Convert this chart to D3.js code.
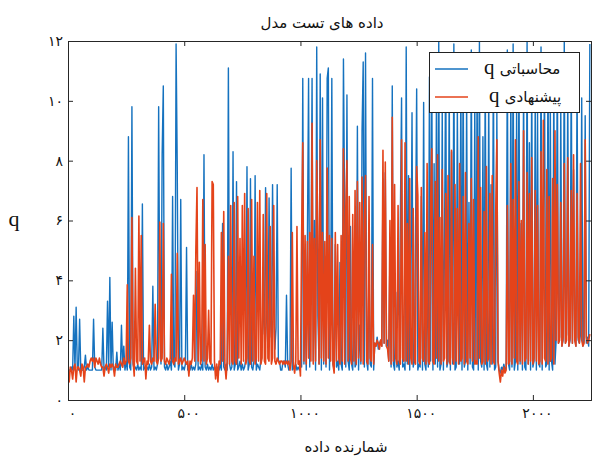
<!DOCTYPE html>
<html>
<head>
<meta charset="utf-8">
<script src="https://cdn.jsdelivr.net/npm/d3@7"></script>
<style>
  body { margin: 0; background: #fff; }
  svg { display: block; }
</style>
</head>
<body>
<svg id="chart" width="592" height="457"></svg>
<script>
// q computed from the model, one value every 5 samples
const computedQ = [
  1.0, 1.0, 1.0, 1.1, 1.0, 2.8, 1.0, 3.1, 1.1, 1.0,
  2.7, 1.0, 1.0, 1.0, 1.1, 1.5, 1.0, 1.1, 1.0, 1.0,
  1.0, 1.0, 2.7, 1.1, 1.0, 1.0, 1.0, 1.0, 1.0, 1.0,
  2.4, 1.0, 1.1, 1.0, 3.3, 1.1, 4.1, 1.0, 2.6, 1.0,
  1.1, 1.0, 1.6, 1.0, 1.2, 1.0, 2.5, 1.1, 1.8, 1.0,
  1.3, 1.0, 8.8, 1.1, 1.0, 9.8, 1.2, 1.0, 1.1, 1.0,
  1.2, 1.0, 1.1, 1.0, 6.55, 1.0, 1.1, 1.0, 1.1, 1.0,
  1.2, 1.0, 1.1, 3.8, 1.0, 1.1, 1.0, 1.2, 9.8, 2.5,
  1.2, 8.2, 10.5, 1.1, 1.0, 1.2, 1.0, 1.1, 1.3, 1.0,
  6.8, 1.2, 1.1, 11.9, 7.8, 1.0, 1.2, 6.7, 1.0, 1.1,
  1.0, 1.2, 5.1, 1.0, 1.1, 1.0, 1.2, 1.0, 1.1, 1.0,
  1.2, 4.3, 1.0, 1.1, 1.0, 1.2, 1.0, 8.2, 1.1, 1.0,
  1.2, 1.0, 1.1, 1.0, 1.2, 1.0, 1.1, 1.0, 1.0, 1.1,
  1.0, 1.2, 1.0, 5.9, 1.1, 1.0, 1.2, 1.0, 11.1, 1.2,
  1.0, 1.1, 8.3, 1.0, 1.2, 7.3, 1.0, 1.1, 1.3, 1.0,
  1.2, 1.0, 1.1, 1.4, 7.8, 1.0, 1.2, 7.4, 1.1, 1.0,
  1.3, 7.5, 1.0, 1.2, 1.1, 1.0, 1.4, 2.0, 3.4, 2.2,
  7.1, 2.6, 1.8, 6.75, 3.0, 2.1, 7.2, 3.3, 1.7, 2.4,
  7.2, 1.3, 1.3, 1.0, 1.0, 1.3, 1.3, 1.1, 3.5, 1.2,
  1.0, 1.1, 7.75, 1.0, 1.1, 1.0, 1.2, 1.0, 1.1, 1.0,
  1.2, 1.1, 10.75, 1.2, 3.5, 1.0, 5.4, 10.75, 1.1, 4.2,
  10.75, 1.3, 6.0, 1.0, 11.8, 2.8, 1.2, 10.9, 1.0, 10.1,
  1.2, 4.8, 1.1, 10.75, 11.1, 1.0, 3.0, 10.75, 1.2, 1.0,
  5.2, 1.1, 1.3, 1.0, 4.6, 1.2, 1.0, 11.4, 6.5, 1.1,
  10.2, 1.3, 1.0, 5.8, 1.2, 1.0, 3.9, 1.1, 1.2, 9.15,
  1.0, 2.5, 1.2, 9.0, 11.3, 1.1, 11.6, 1.3, 1.0, 4.4,
  1.2, 1.1, 10.75, 1.0, 1.9, 1.8, 2.1, 1.7, 1.9, 2.0,
  1.8, 7.4, 1.9, 7.6, 1.8, 2.0, 1.3, 5.0, 1.1, 10.5,
  1.2, 1.0, 3.6, 1.1, 1.3, 1.0, 6.2, 10.1, 1.1, 1.2,
  1.0, 11.8, 1.2, 7.5, 1.0, 3.2, 9.6, 1.1, 1.3, 5.4,
  10.4, 1.0, 1.2, 1.1, 6.8, 1.0, 9.95, 1.2, 1.0, 4.5,
  1.1, 10.8, 1.3, 11.2, 1.0, 7.9, 1.2, 10.0, 1.1, 12.0,
  1.0, 1.2, 9.7, 1.0, 5.5, 11.5, 1.1, 1.3, 10.6, 1.0,
  8.3, 1.2, 11.9, 1.0, 1.1, 9.8, 3.8, 1.2, 10.9, 1.0,
  11.4, 1.1, 1.3, 10.2, 1.0, 6.6, 1.2, 11.7, 1.1, 1.0,
  9.9, 1.2, 10.7, 1.0, 12.0, 1.3, 1.1, 8.8, 1.0, 11.1,
  1.2, 1.0, 10.3, 1.1, 7.2, 1.2, 11.6, 1.0, 1.1, 9.6,
  1.3, 1.0, 0.9, 1.1, 1.0, 1.2, 1.0, 1.1, 11.7, 1.2,
  1.0, 10.5, 1.1, 11.9, 1.0, 1.3, 9.8, 1.0, 11.3, 1.2,
  5.9, 1.0, 10.8, 1.1, 1.0, 12.0, 1.2, 8.6, 1.0, 11.0,
  1.1, 1.3, 10.1, 1.0, 9.7, 1.2, 1.1, 11.8, 1.0, 6.4,
  10.6, 1.1, 1.2, 11.5, 1.0, 9.9, 1.3, 1.0, 10.9, 1.2,
  2.0, 11.6, 1.9, 2.1, 9.8, 1.8, 2.0, 12.0, 1.9, 2.2,
  10.4, 1.8, 2.0, 11.2, 1.9, 7.7, 2.1, 1.8, 10.7, 2.0,
  1.9, 2.2, 10.1, 1.8, 2.0, 9.5, 1.9, 2.1, 1.8, 11.9
];

// q proposed by the new method, same sampling
const proposedQ = [
  1.1, 0.6, 1.1, 1.0, 0.7, 1.1, 1.2, 0.6, 1.1, 1.1,
  1.0, 0.8, 1.2, 1.1, 0.6, 1.1, 1.1, 1.2, 1.1, 1.3,
  1.4, 1.3, 1.4, 1.1, 1.4, 1.3, 1.2, 1.4, 1.2, 1.1,
  1.1, 0.8, 1.1, 1.2, 1.1, 0.9, 1.2, 1.1, 1.2, 1.1,
  0.8, 1.2, 1.1, 1.1, 1.2, 1.3, 1.2, 1.1, 1.4, 1.2,
  1.3, 3.85, 1.3, 1.2, 1.4, 6.1, 1.3, 0.8, 4.4, 1.3,
  1.2, 6.15, 1.3, 5.5, 1.2, 1.3, 1.4, 0.7, 1.3, 1.2,
  2.5, 1.3, 1.2, 1.4, 1.3, 3.2, 1.3, 1.2, 1.4, 5.95,
  1.3, 1.4, 5.9, 1.3, 1.2, 1.4, 1.3, 1.2, 1.4, 4.2,
  1.3, 1.2, 1.4, 1.3, 4.9, 1.2, 1.3, 1.4, 1.2, 1.3,
  1.4, 1.3, 1.2, 1.3, 0.8, 1.3, 1.2, 1.4, 3.5, 1.3,
  5.0, 7.1, 1.3, 4.6, 1.2, 1.4, 6.7, 1.3, 5.2, 1.2,
  1.4, 3.0, 1.3, 1.2, 7.3, 7.2, 1.3, 0.7, 1.2, 0.6,
  1.3, 1.2, 5.6, 1.3, 6.3, 1.2, 0.7, 1.3, 4.8, 1.2,
  6.5, 1.3, 1.2, 6.6, 1.3, 1.2, 6.8, 1.4, 5.4, 1.2,
  6.5, 1.3, 6.9, 1.2, 1.4, 6.4, 1.3, 1.2, 6.7, 1.3,
  4.8, 1.2, 1.4, 6.6, 1.3, 7.0, 1.2, 1.4, 6.2, 1.3,
  1.2, 6.9, 1.4, 1.3, 5.8, 1.2, 1.4, 6.5, 1.3, 1.2,
  1.4, 1.3, 1.2, 1.3, 1.3, 1.2, 1.3, 1.2, 1.3, 1.2,
  1.3, 1.0, 1.3, 5.6, 1.2, 0.9, 1.3, 5.8, 1.2, 1.3,
  0.8, 5.4, 8.6, 1.3, 5.5, 1.2, 5.3, 1.4, 5.6, 1.3,
  9.25, 1.2, 5.4, 1.3, 8.0, 5.5, 1.2, 8.7, 1.4, 5.6,
  1.3, 5.3, 1.2, 7.75, 1.4, 5.5, 1.3, 5.4, 1.2, 0.9,
  5.6, 1.3, 5.2, 1.4, 1.2, 5.5, 1.3, 8.4, 1.2, 6.4,
  8.0, 1.3, 6.8, 1.4, 1.2, 6.2, 1.3, 7.0, 1.2, 7.3,
  1.4, 6.6, 1.3, 7.45, 1.2, 6.0, 7.5, 1.3, 1.2, 6.8,
  1.4, 1.3, 5.2, 1.2, 1.9, 1.8, 2.0, 1.9, 1.7, 2.0,
  1.8, 8.35, 1.9, 7.95, 1.8, 1.7, 1.3, 6.0, 1.2, 9.45,
  1.3, 7.2, 1.4, 1.2, 6.5, 1.3, 1.2, 8.7, 1.4, 1.3,
  8.6, 1.3, 5.9, 1.2, 7.4, 1.4, 1.2, 6.4, 1.3, 1.2,
  7.8, 6.85, 1.3, 1.2, 7.1, 1.4, 1.3, 5.6, 1.2, 7.9,
  1.3, 1.2, 6.6, 8.4, 1.3, 1.2, 7.3, 1.4, 8.2, 1.3,
  6.1, 1.2, 7.7, 1.3, 1.4, 6.9, 1.2, 7.5, 1.3, 1.2,
  8.35, 1.4, 1.2, 7.2, 1.3, 6.4, 1.2, 7.9, 1.3, 1.4,
  6.8, 1.2, 7.6, 1.3, 1.2, 5.9, 1.4, 7.4, 1.3, 6.7,
  1.2, 1.3, 1.2, 8.8, 1.4, 7.1, 1.2, 1.3, 6.3, 1.2,
  7.8, 1.3, 1.4, 6.9, 1.2, 7.5, 1.3, 1.2, 6.2, 8.7,
  1.3, 0.9, 0.6, 1.0, 0.8, 1.1, 0.9, 1.0, 6.5, 1.2,
  1.3, 7.9, 1.2, 6.7, 1.4, 8.7, 1.3, 1.2, 7.3, 1.3,
  6.0, 1.2, 9.0, 1.3, 1.4, 7.6, 1.2, 6.9, 1.3, 8.1,
  1.2, 1.4, 7.0, 1.3, 6.5, 1.2, 1.3, 8.3, 1.2, 9.35,
  1.4, 1.3, 7.7, 1.2, 6.8, 1.3, 1.4, 7.4, 1.2, 9.0,
  2.0, 7.2, 1.9, 2.0, 6.6, 1.8, 2.1, 7.9, 1.9, 2.0,
  8.1, 1.8, 2.1, 7.0, 1.9, 8.2, 2.0, 1.8, 6.9, 2.1,
  1.9, 7.9, 2.0, 1.8, 1.9, 8.7, 2.1, 1.9, 2.0, 2.2
];

const sampleStep = 5;
const xTickValues = [0, 500, 1000, 1500, 2000];
const xTickLabels = ["۰", "۵۰۰", "۱۰۰۰", "۱۵۰۰", "۲۰۰۰"];
const yTickValues = [0, 2, 4, 6, 8, 10, 12];
const yTickLabels = ["۰", "۲", "۴", "۶", "۸", "۱۰", "۱۲"];
const seriesNames = ["محاسباتی", "پیشنهادی"];
const seriesColors = ["#1572bf", "#e4431a"];
const seriesWidths = [1.4, 1.6];

const svg = d3.select("#chart");
const margin = { left: 68, right: 1, top: 41, bottom: 57 };
const W = 592, H = 457;
const pw = W - margin.left - margin.right;
const ph = H - margin.top - margin.bottom;

const x = d3.scaleLinear().domain([0, 2250]).range([margin.left, margin.left + pw]);
const y = d3.scaleLinear().domain([0, 12]).range([margin.top + ph, margin.top]);

svg.append("defs").append("clipPath").attr("id", "plotClip")
  .append("rect")
  .attr("x", margin.left).attr("y", margin.top)
  .attr("width", pw).attr("height", ph);

const line = d3.line()
  .x((d, i) => x(i * sampleStep))
  .y(d => y(d));

const plot = svg.append("g").attr("clip-path", "url(#plotClip)");
[computedQ, proposedQ].forEach((series, k) => {
  plot.append("path")
    .datum(series)
    .attr("fill", "none")
    .attr("stroke", seriesColors[k])
    .attr("stroke-width", seriesWidths[k])
    .attr("stroke-linejoin", "round")
    .attr("d", line);
});

// Axes: ticks point inward on all four sides
const fontDigits = "'DejaVu Sans', sans-serif";
const bottomAxis = svg.append("g")
  .attr("transform", `translate(0,${margin.top + ph})`)
  .call(d3.axisBottom(x).tickValues(xTickValues).tickSize(-5).tickPadding(8)
    .tickFormat((d, i) => xTickLabels[i]));
const topAxis = svg.append("g")
  .attr("transform", `translate(0,${margin.top})`)
  .call(d3.axisTop(x).tickValues(xTickValues).tickSize(-5).tickFormat(""));
const leftAxis = svg.append("g")
  .attr("transform", `translate(${margin.left},0)`)
  .call(d3.axisLeft(y).tickValues(yTickValues).tickSize(-5).tickPadding(5)
    .tickFormat((d, i) => yTickLabels[i]));
const rightAxis = svg.append("g")
  .attr("transform", `translate(${margin.left + pw},0)`)
  .call(d3.axisRight(y).tickValues(yTickValues).tickSize(-5).tickFormat(""));

[bottomAxis, topAxis, leftAxis, rightAxis].forEach(g => {
  g.select(".domain").attr("stroke", "#262626").attr("stroke-width", 1);
  g.selectAll(".tick line").attr("stroke", "#262626");
  g.selectAll("text")
    .attr("fill", "#111")
    .style("font-family", fontDigits)
    .style("font-size", "14px");
});
bottomAxis.selectAll("text").attr("dx", 4);

// Title and axis labels
svg.append("text")
  .attr("x", 322).attr("y", 28)
  .attr("text-anchor", "middle")
  .style("font-family", fontDigits).style("font-size", "15px")
  .attr("fill", "#111")
  .text("داده های تست مدل");

svg.append("text")
  .attr("x", 346).attr("y", 452)
  .attr("text-anchor", "middle")
  .style("font-family", fontDigits).style("font-size", "15px")
  .attr("fill", "#111")
  .text("شمارنده داده");

svg.append("text")
  .attr("x", 14).attr("y", 226)
  .attr("text-anchor", "middle")
  .style("font-family", "'Liberation Serif', serif").style("font-size", "22px")
  .attr("fill", "#111")
  .text("q");

// Legend
const legend = svg.append("g");
legend.append("rect")
  .attr("x", 429.5).attr("y", 52.5).attr("width", 150).attr("height", 60)
  .attr("fill", "#fff").attr("stroke", "#222").attr("stroke-width", 1);
const legendRows = [69, 97];
seriesNames.forEach((name, k) => {
  legend.append("line")
    .attr("x1", 435).attr("x2", 468)
    .attr("y1", legendRows[k]).attr("y2", legendRows[k])
    .attr("stroke", seriesColors[k]).attr("stroke-width", 1.5);
  const t = legend.append("text")
    .attr("x", k === 0 ? 484 : 489).attr("y", legendRows[k] + 5)
    .attr("fill", "#111");
  t.append("tspan")
    .style("font-family", "'Liberation Serif', serif").style("font-size", "21px")
    .text("q ");
  t.append("tspan")
    .style("font-family", fontDigits).style("font-size", "15px")
    .text(name);
});
</script>
</body>
</html>
